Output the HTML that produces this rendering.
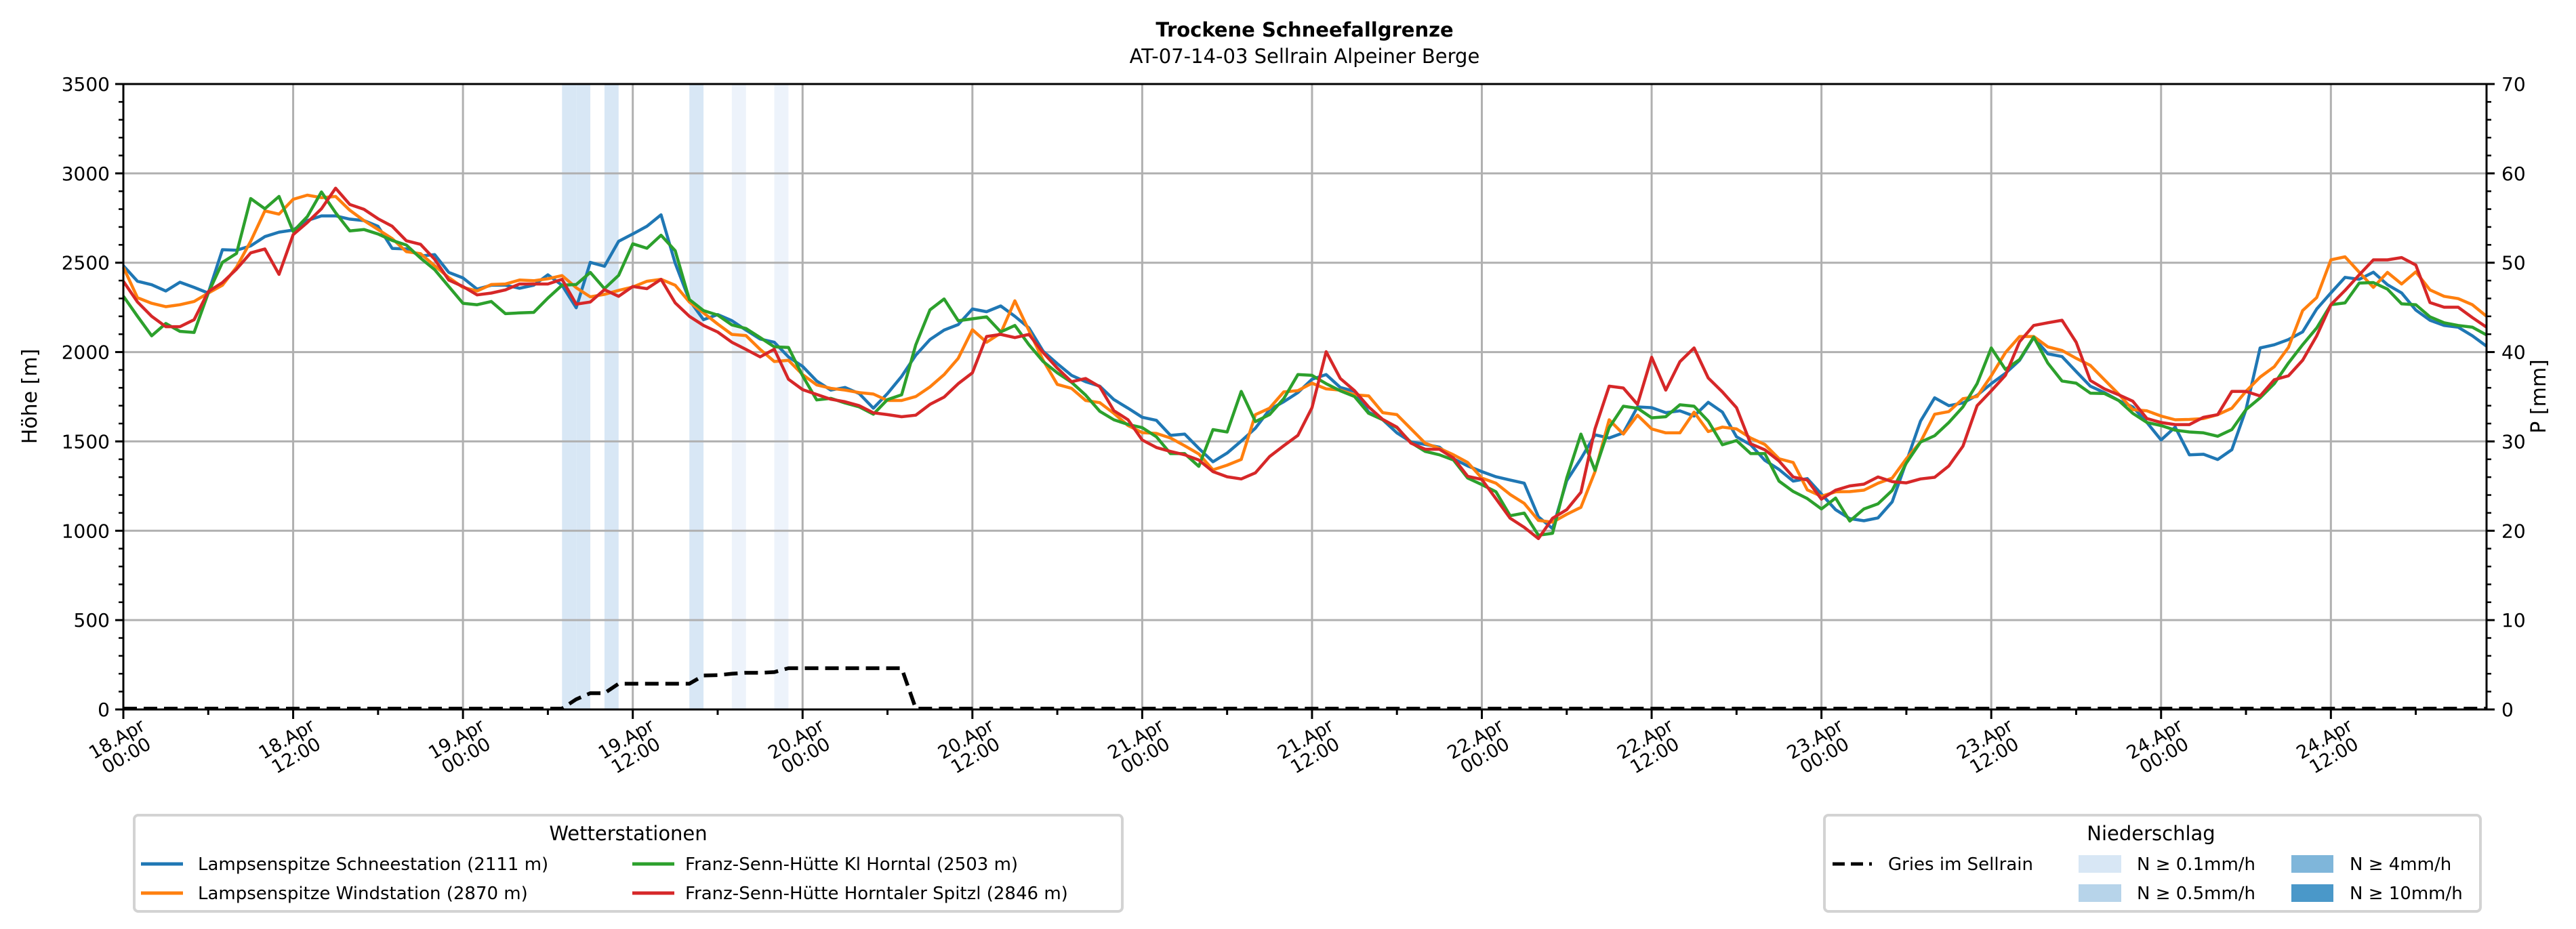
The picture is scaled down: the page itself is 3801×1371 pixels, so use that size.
<!DOCTYPE html>
<html><head><meta charset="utf-8"><style>
html,body{margin:0;padding:0;background:#fff;}
svg{display:block;font-family:"DejaVu Sans","Liberation Sans",sans-serif;}
</style></head>
<body>
<svg id="chart" width="3801" height="1371" viewBox="0 0 3801 1371" xmlns="http://www.w3.org/2000/svg">
<rect x="0" y="0" width="3801" height="1371" fill="#fff"/>
<text x="1925" y="54" font-size="29" font-weight="bold" text-anchor="middle">Trockene Schneefallgrenze</text>
<text x="1925" y="93" font-size="29" text-anchor="middle">AT-07-14-03 Sellrain Alpeiner Berge</text>
<g id="bands"></g>
<g id="grid"></g>
<g id="series"></g>
<g id="axes"></g>
<text x="0" y="0" font-size="30" text-anchor="middle" transform="translate(54,585) rotate(-90)">Höhe [m]</text>
<text x="0" y="0" font-size="30" text-anchor="middle" transform="translate(3756,585) rotate(-90)">P [mm]</text>

<g>
<rect x="198" y="1203" width="1458" height="142" rx="6" fill="#fff" stroke="#d3d3d3" stroke-width="4"/>
<text x="927" y="1240" font-size="29" text-anchor="middle">Wetterstationen</text>
<g><line x1="208" y1="1275" x2="270" y2="1275" stroke="#1f77b4" stroke-width="5"/><text x="292" y="1284" font-size="26">Lampsenspitze Schneestation (2111 m)</text></g>
<g><line x1="208" y1="1318" x2="270" y2="1318" stroke="#ff7f0e" stroke-width="5"/><text x="292" y="1327" font-size="26">Lampsenspitze Windstation (2870 m)</text></g>
<g><line x1="933" y1="1275" x2="995" y2="1275" stroke="#2ca02c" stroke-width="5"/><text x="1011" y="1284" font-size="26">Franz-Senn-Hütte Kl Horntal (2503 m)</text></g>
<g><line x1="933" y1="1318" x2="995" y2="1318" stroke="#d62728" stroke-width="5"/><text x="1011" y="1327" font-size="26">Franz-Senn-Hütte Horntaler Spitzl (2846 m)</text></g>
</g>

<g>
<rect x="2692" y="1203" width="968" height="142" rx="6" fill="#fff" stroke="#d3d3d3" stroke-width="4"/>
<text x="3174" y="1240" font-size="29" text-anchor="middle">Niederschlag</text>
<g><line x1="2704" y1="1275" x2="2762" y2="1275" stroke="#000" stroke-width="5" stroke-dasharray="18,9"/><text x="2786" y="1284" font-size="26">Gries im Sellrain</text></g>
<g><rect x="3067" y="1262" width="63" height="26" fill="#d8e7f5"/><text x="3153" y="1284" font-size="26">N ≥ 0.1mm/h</text></g>
<g><rect x="3067" y="1305" width="63" height="26" fill="#b7d4ea"/><text x="3153" y="1327" font-size="26">N ≥ 0.5mm/h</text></g>
<g><rect x="3381" y="1262" width="62" height="26" fill="#7fb6da"/><text x="3467" y="1284" font-size="26">N ≥ 4mm/h</text></g>
<g><rect x="3381" y="1305" width="62" height="26" fill="#4a98c9"/><text x="3467" y="1327" font-size="26">N ≥ 10mm/h</text></g>
</g>
</svg>
<script>
// ---- data (hourly, starting 18.Apr 00:00) ----
const xTickLabels = ["18.Apr|00:00","18.Apr|12:00","19.Apr|00:00","19.Apr|12:00","20.Apr|00:00","20.Apr|12:00","21.Apr|00:00","21.Apr|12:00","22.Apr|00:00","22.Apr|12:00","23.Apr|00:00","23.Apr|12:00","24.Apr|00:00","24.Apr|12:00"];
const yTicks = [0,500,1000,1500,2000,2500,3000,3500];
const y2Ticks = [0,10,20,30,40,50,60,70];
const blueVals = [2483,2396,2377,2342,2391,2362,2330,2573,2570,2594,2646,2671,2683,2736,2762,2762,2744,2736,2704,2580,2577,2538,2545,2446,2415,2352,2374,2374,2357,
2374,2432,2374,2248,2502,2480,2620,2661,2704,2768,2497,2290,2181,2210,2176,2123,2073,2055,1973,1920,1838,1787,1802,1768,1686,1768,1864,1983,
2070,2123,2154,2241,2226,2258,2200,2135,2005,1935,1870,1834,1809,1734,1686,1635,1618,1534,1541,1461,1386,1435,1502,1574,1678,1722,1773,1848,1874,
1802,1780,1664,1621,1548,1497,1483,1468,1403,1363,1331,1302,1284,1266,1078,1012,1280,1403,1537,1519,1548,1693,1689,1661,1671,1642,1719,1664,1526,
1481,1394,1343,1278,1292,1205,1118,1068,1056,1072,1162,1386,1613,1744,1700,1715,1758,1823,1881,1954,2081,1990,1975,1891,1809,1773,1729,1693,1606,
1508,1580,1425,1428,1399,1454,1678,2023,2041,2070,2113,2241,2331,2418,2407,2447,2377,2331,2235,2178,2149,2139,2091,2033];
const orangeVals = [2475,2304,2273,2254,2265,2283,2330,2374,2475,2620,2790,2772,2855,2878,2864,2871,2794,2736,2686,2635,2562,2551,2483,2417,2362,2342,2378,2381,2403,
2399,2410,2428,2360,2309,2323,2345,2364,2396,2407,2374,2280,2219,2157,2099,2092,2015,1947,1954,1874,1816,1797,1787,1773,1765,1729,1729,1751,
1805,1874,1965,2125,2055,2106,2287,2120,1954,1819,1797,1729,1717,1657,1589,1549,1545,1519,1476,1430,1341,1367,1399,1650,1686,1777,1784,1826,1794,
1787,1761,1755,1661,1650,1570,1490,1461,1425,1382,1295,1266,1203,1153,1058,1048,1092,1131,1331,1621,1541,1647,1570,1548,1548,1664,1555,1580,1570,
1519,1483,1403,1382,1229,1193,1218,1219,1227,1266,1295,1403,1497,1652,1667,1739,1751,1867,1997,2087,2087,2029,2009,1965,1925,1845,1765,1678,1671,
1642,1621,1623,1628,1650,1686,1780,1860,1918,2026,2232,2305,2516,2533,2447,2362,2446,2381,2449,2348,2312,2299,2265,2200];
const greenVals = [2313,2200,2091,2160,2116,2110,2330,2502,2552,2859,2802,2871,2675,2758,2896,2780,2678,2686,2661,2625,2599,2526,2461,2367,2273,2265,2283,2215,2219,
2222,2302,2374,2378,2446,2355,2429,2606,2581,2654,2567,2294,2232,2207,2152,2132,2081,2029,2026,1867,1732,1741,1715,1693,1652,1734,1761,2041,
2236,2297,2175,2186,2197,2113,2149,2041,1947,1884,1831,1759,1669,1621,1595,1577,1526,1432,1432,1360,1566,1553,1780,1611,1650,1739,1874,1870,1823,
1783,1751,1657,1621,1577,1493,1444,1425,1396,1295,1258,1218,1084,1099,975,986,1295,1541,1338,1577,1697,1686,1632,1638,1705,1697,1614,1481,1505,
1432,1432,1278,1220,1180,1122,1183,1054,1122,1151,1226,1379,1496,1532,1606,1693,1823,2023,1903,1958,2084,1938,1838,1826,1770,1768,1729,1657,1606,
1589,1563,1553,1548,1529,1566,1678,1744,1823,1939,2041,2135,2265,2275,2386,2389,2352,2270,2265,2197,2164,2149,2139,2096];
const redVals = [2396,2280,2200,2142,2142,2181,2338,2389,2464,2555,2577,2435,2657,2725,2802,2917,2826,2799,2746,2704,2623,2603,2519,2403,2367,2320,2330,2348,2381,
2381,2381,2407,2268,2280,2349,2312,2367,2355,2407,2275,2200,2149,2112,2055,2015,1973,2016,1848,1790,1763,1736,1722,1700,1660,1650,1638,1647,
1707,1748,1823,1884,2087,2099,2081,2099,1997,1910,1834,1852,1806,1672,1621,1508,1466,1444,1425,1396,1331,1302,1290,1324,1415,1476,1534,1689,2002,
1852,1784,1693,1623,1580,1490,1456,1456,1407,1305,1287,1179,1070,1019,956,1070,1118,1215,1570,1809,1799,1707,1971,1787,1946,2023,1855,1777,1689,
1487,1453,1391,1301,1284,1177,1227,1251,1261,1301,1275,1268,1290,1299,1363,1473,1700,1783,1870,2058,2149,2164,2178,2055,1841,1794,1761,1725,1628,
1606,1594,1594,1635,1650,1780,1780,1754,1845,1867,1954,2091,2265,2345,2432,2516,2516,2529,2487,2277,2251,2251,2193,2139];
const griesHours = [0,31,32,33,34,35,40,41,42,43,44,45,46,47,55,56,167];
const griesVals  = [5,5,57,91,91,144,144,190,192,200,205,205,209,231,231,5,5];
const precipHours = [31,32,34,40,43,46];
const precipVals  = [0.2,0.2,0.2,0.2,0.05,0.05];

// ---- scales ----
const X0=182, X1=3669, Y0=1047, Y1=124, H0=0, H1=167;
function xs(h){return X0+(h-H0)/(H1-H0)*(X1-X0);}
function ys(v){return Y0-v/3500*(Y0-Y1);}
function y2s(v){return Y0-v/70*(Y0-Y1);}
const NS="http://www.w3.org/2000/svg";
function mk(tag,attrs,parent){const e=document.createElementNS(NS,tag);for(const k in attrs)e.setAttribute(k,attrs[k]);parent.appendChild(e);return e;}
const gB=document.getElementById('bands'),gG=document.getElementById('grid'),gS=document.getElementById('series'),gA=document.getElementById('axes');

function pcol(v){if(v>=10)return"#4a98c9";if(v>=4)return"#7fb6da";if(v>=0.5)return"#b7d4ea";if(v>=0.1)return"#d8e7f5";return"#edf3fb";}
precipHours.forEach((h,i)=>{
  const r=mk('rect',{x:xs(h),y:Y1,width:xs(h+1)-xs(h),height:Y0-Y1,fill:pcol(precipVals[i])},gB);
  
  
});

yTicks.forEach(v=>{
  const l=mk('line',{x1:X0,x2:X1,y1:ys(v),y2:ys(v),stroke:"#b0b0b0","stroke-width":3},gG);
  
  
});
xTickLabels.forEach((t,i)=>{
  const x=xs(i*12);
  const l=mk('line',{x1:x,x2:x,y1:Y1,y2:Y0,stroke:"#b0b0b0","stroke-width":3},gG);
  
  
});

function poly(vals,color,name){
  const pts=vals.map((v,i)=>xs(i).toFixed(1)+","+ys(v).toFixed(1)).join(" ");
  const p=mk('polyline',{points:pts,fill:"none",stroke:color,"stroke-width":4.5,"stroke-linejoin":"round"},gS);
  
  
}
poly(blueVals,"#1f77b4","line-lampsenspitze-schnee");
poly(orangeVals,"#ff7f0e","line-lampsenspitze-wind");
poly(greenVals,"#2ca02c","line-franz-senn-kl-horntal");
poly(redVals,"#d62728","line-franz-senn-spitzl");
const gp=mk('polyline',{points:griesHours.map((h,i)=>xs(h).toFixed(1)+","+ys(griesVals[i]).toFixed(1)).join(" "),fill:"none",stroke:"#000","stroke-width":5.5,"stroke-dasharray":"20,10"},gS);



mk('rect',{x:X0,y:Y1,width:X1-X0,height:Y0-Y1,fill:"none",stroke:"#000","stroke-width":3},gA);
for(let v=0;v<=3500;v+=100){
  const major=v%500===0;
  mk('line',{x1:X0,x2:X0-(major?12:7),y1:ys(v),y2:ys(v),stroke:"#000","stroke-width":major?3:2.5},gA);
}
yTicks.forEach(v=>{
  const t=mk('text',{x:X0-20,y:ys(v)+10,"font-size":28,"text-anchor":"end"},gA);
  t.textContent=v;
  
  
});
for(let v=0;v<=70;v+=2){
  const major=v%10===0;
  mk('line',{x1:X1,x2:X1+(major?12:7),y1:y2s(v),y2:y2s(v),stroke:"#000","stroke-width":major?3:2.5},gA);
}
y2Ticks.forEach(v=>{
  const t=mk('text',{x:X1+22,y:y2s(v)+10,"font-size":28,"text-anchor":"start"},gA);
  t.textContent=v;
  
  
});
for(let h=0;h<=H1;h+=6){
  const major=h%12===0;
  mk('line',{x1:xs(h),x2:xs(h),y1:Y0,y2:Y0+(major?14:8),stroke:"#000","stroke-width":3},gA);
}
xTickLabels.forEach((lab,i)=>{
  const x=xs(i*12);
  const parts=lab.split("|");
  const g=mk('g',{transform:`translate(${x-10},1090) rotate(-30)`},gA);
  
  
  const t1=mk('text',{x:0,y:10,"font-size":27,"text-anchor":"middle"},g); t1.textContent=parts[0];
  const t2=mk('text',{x:0,y:38,"font-size":27,"text-anchor":"middle"},g); t2.textContent=parts[1];
});
</script>
</body></html>
